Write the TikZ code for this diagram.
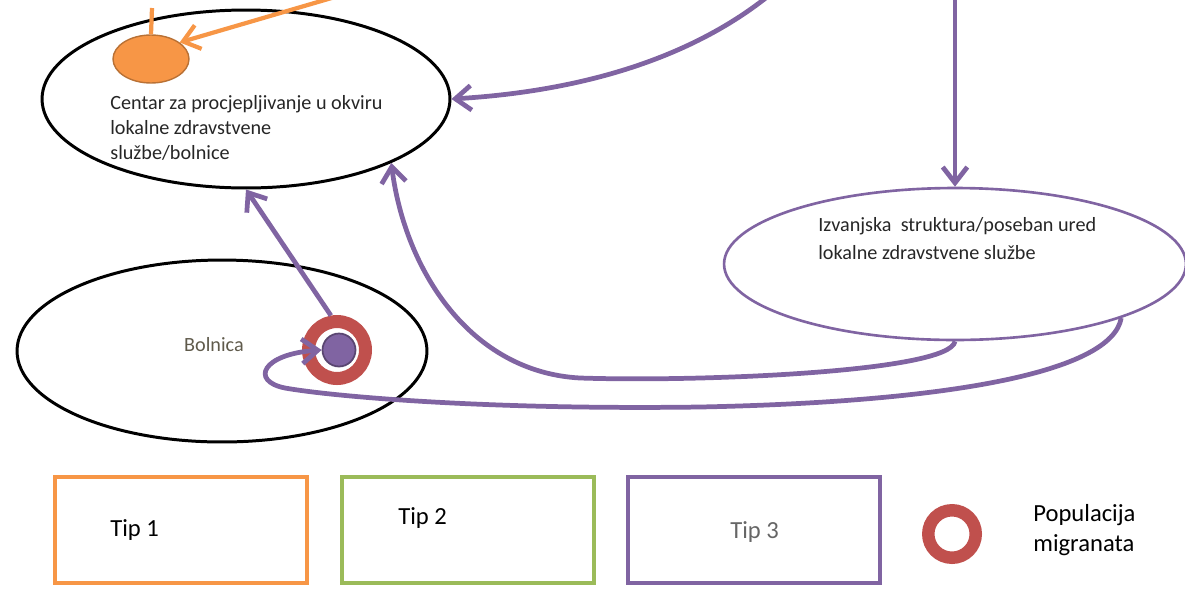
\documentclass[tikz,border=0pt]{standalone}
\usepackage{fontspec}
\setmainfont{Carlito}
\usetikzlibrary{shapes.geometric,arrows.meta}
\definecolor{ljub}{RGB}{128,100,162}
\definecolor{narancasta}{RGB}{247,150,70}
\definecolor{zelena}{RGB}{155,187,89}
\definecolor{crvena}{RGB}{192,80,77}

\begin{document}
\begin{tikzpicture}[x=0.02cm,y=-0.02cm,
  elipsa/.style={ellipse,draw,line width=1.7pt,inner sep=0pt},
  veza/.style={draw=ljub,line width=2.7pt,-{Straight Barb[length=9pt,width=14pt]}},
  okvir/.style={rectangle,draw,line width=1.8pt,minimum width=5.04cm,minimum height=2.12cm},
  prsten/.style={circle,draw=crvena,inner sep=0pt},
  tekst/.style={font=\fontsize{11.5}{14.2}\selectfont,align=left,inner sep=0pt,text=black!85},
  legenda/.style={font=\fontsize{14}{17}\selectfont,align=left,inner sep=0pt,anchor=west}]
  \useasboundingbox (0,0) rectangle (1185,609);

  \node[elipsa,minimum width=8.16cm,minimum height=3.56cm] (centar) at (246,99) {};
  \node[tekst,anchor=west] (centartxt) at (110,128)
    {Centar za procjepljivanje u okviru\\lokalne zdravstvene\\službe/bolnice};
  \node[elipsa,draw=ljub,line width=1.5pt,minimum width=9.24cm,minimum height=3.04cm] (izvan) at (955,264) {};
  \node[tekst,anchor=west,font=\fontsize{11.5}{15.9}\selectfont] (izvantxt) at (818,239)
    {Izvanjska~ struktura/poseban ured\\lokalne zdravstvene službe};
  \node[elipsa,minimum width=8.2cm,minimum height=3.64cm] (bolnica) at (222,351) {};
  \node[tekst,text={rgb,255:red,95;green,90;blue,75}] (bolnicatxt) at (214,345) {Bolnica};

  \node[ellipse,fill=narancasta,draw=narancasta!75!black,line width=0.8pt,inner sep=0pt,
    minimum width=1.52cm,minimum height=0.96cm] (tip1tocka) at (151,59) {};
  \coordinate (vrh1) at (335,-3);
  \coordinate (vrh2) at (152,8);
  \draw[narancasta,line width=2.4pt,-{Straight Barb[length=9pt,width=14pt]}] (vrh1) -- (tip1tocka.30);
  \draw[narancasta,line width=2.4pt] (vrh2) -- (tip1tocka.north);

  \node[prsten,line width=7.4pt,minimum size=1.14cm] (prsten1) at (337,350) {};
  \node[circle,fill=ljub,draw=ljub!70!black,line width=1pt,inner sep=0pt,minimum size=0.66cm] (tocka) at (339,350) {};

  \coordinate (vrh3) at (767,-3);
  \coordinate (vrh4) at (955,-3);
  \draw[veza] (vrh3) .. controls (700,50) and (600,90) .. (centar.east);
  \draw[veza] (vrh4) -- (izvan.north);
  \draw[veza] (izvan.south) .. controls (950,372) and (700,382) .. (580,378)
    .. controls (470,372) and (405,270) .. (centar.south east);
  \draw[veza] (izvan.-18) .. controls (1112,372) and (950,402) .. (700,407)
    .. controls (480,410) and (330,396) .. (285,388)
    .. controls (250,381) and (262,354) .. (tocka.west);
  \draw[veza] (prsten1.100) -- (centar.south);

  % legenda
  \node[okvir,draw=narancasta] (okvir1) at (181,530) {};
  \node[okvir,draw=zelena] (okvir2) at (468,530) {};
  \node[okvir,draw=ljub] (okvir3) at (754,530) {};
  \node[legenda] (tip1) at (110,530) {Tip 1};
  \node[legenda] (tip2) at (398,518) {Tip 2};
  \node[legenda,text=black!60] (tip3) at (730,532) {Tip 3};
  \node[prsten,line width=7.1pt,minimum size=0.95cm] (prsten2) at (952,534) {};
  \node[legenda] (populacija) at (1033,530) {Populacija\\migranata};
\end{tikzpicture}
\end{document}
